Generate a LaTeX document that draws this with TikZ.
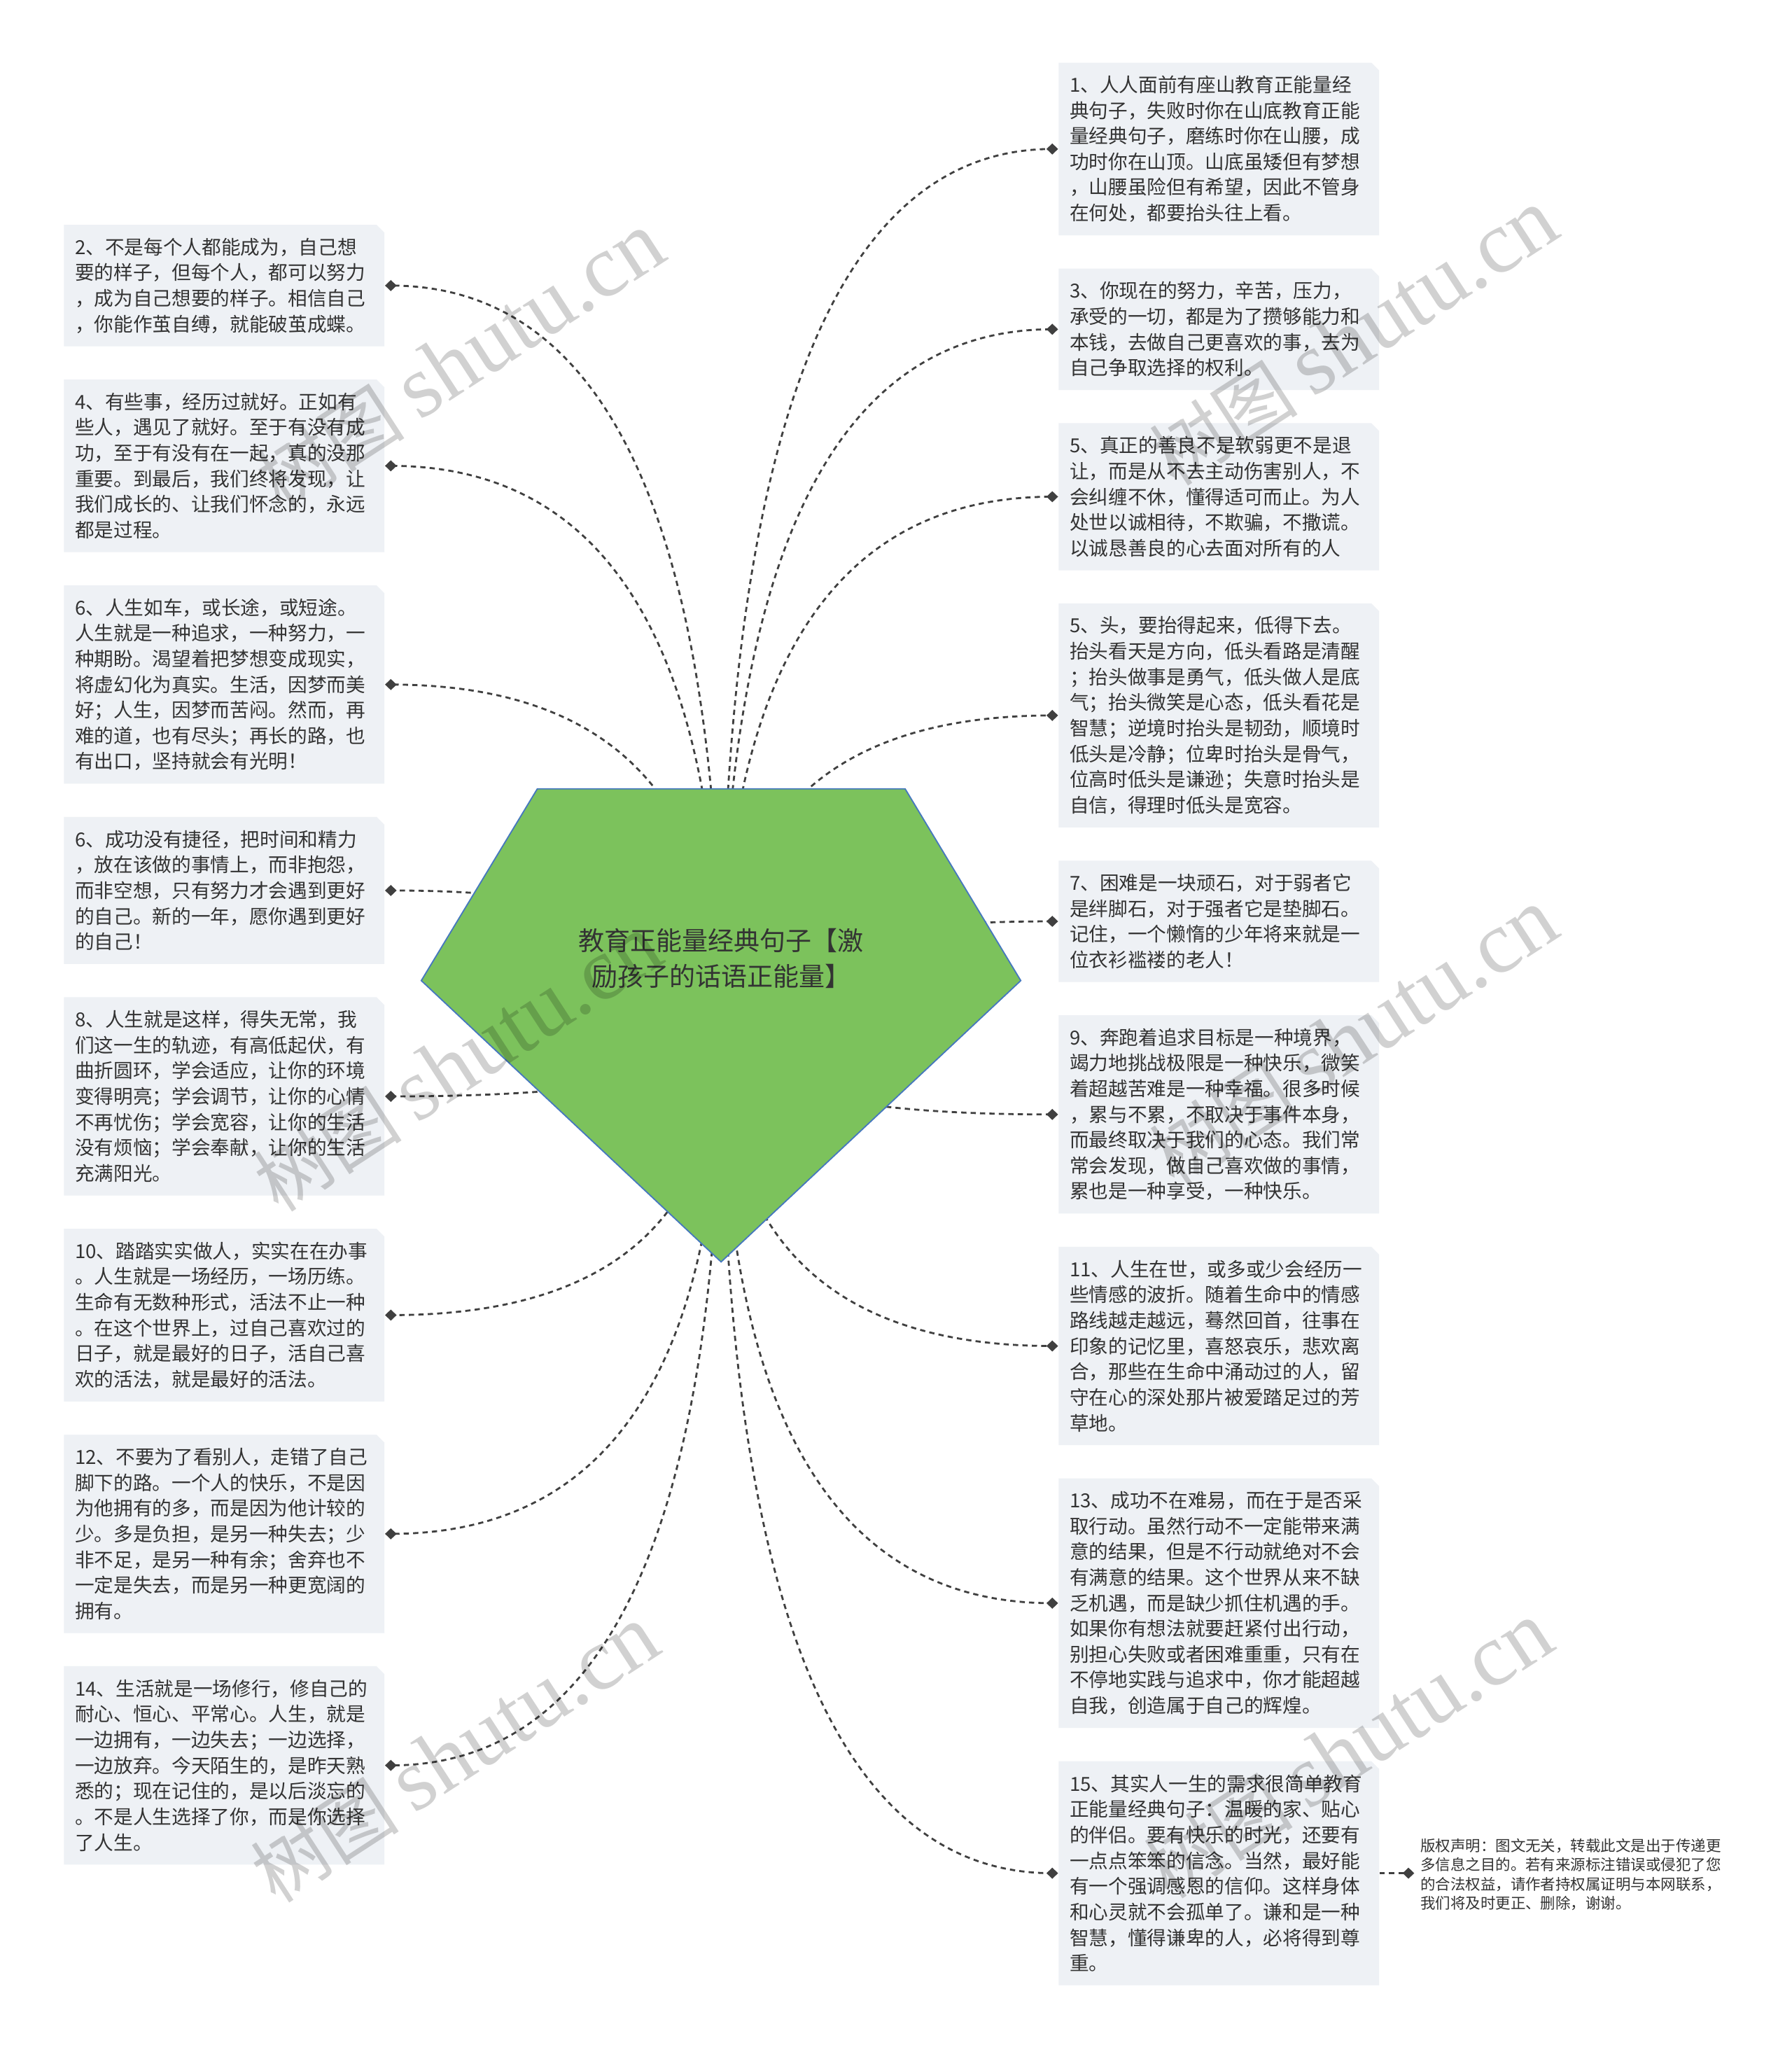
\documentclass[tikz,border=0pt]{standalone}
\usepackage{fontspec}
\setmainfont{Noto Sans CJK SC}
\newfontfamily\wmcjk{Noto Sans CJK SC}
\newfontfamily\wmlatin{Liberation Serif}
\usetikzlibrary{shapes.geometric,calc}
\definecolor{boxfill}{RGB}{238,241,245}
\definecolor{txtcol}{RGB}{51,51,51}
\definecolor{conncol}{RGB}{64,64,64}
\definecolor{rootfill}{RGB}{124,194,92}
\definecolor{rootline}{RGB}{70,120,190}
\tikzset{
  qbox/.style={anchor=north west, inner xsep=4.25pt, inner ysep=2pt, text width=114pt,
    align=left, text=txtcol, font=\fontsize{7.4pt}{9.8pt}\selectfont,
    path picture={\fill[boxfill] (path picture bounding box.south west)
      -- (path picture bounding box.north west)
      -- ([xshift=-3pt]path picture bounding box.north east)
      -- ([yshift=-3pt]path picture bounding box.north east)
      -- (path picture bounding box.south east) -- cycle;}},
  hfour/.style={minimum height=46.4pt},
  hfive/.style={minimum height=56.2pt},
  hsix/.style={minimum height=66pt},
  hseven/.style={minimum height=75.8pt},
  height/.style={minimum height=85.6pt},
  hnine/.style={minimum height=95.4pt},
  conn/.style={draw=conncol, line width=0.75pt, dash pattern=on 2pt off 1.6pt},
  dnode/.style={diamond, fill=conncol, inner sep=0pt, minimum width=4.6pt, minimum height=4.4pt},
  roottext/.style={align=center, text=txtcol, font=\fontsize{9.9pt}{13.5pt}\selectfont, inner sep=0pt},
  crtext/.style={align=left, text=txtcol, font=\fontsize{5.75pt}{7.3pt}\selectfont, inner sep=0pt, anchor=west},
  wm/.style={rotate=33, text=black, text opacity=0.18, inner sep=0pt}
}
\begin{document}
\begin{tikzpicture}[x=0.5pt,y=-0.5pt]
\fill[white] (0,0) rectangle (1370,1568.6);
\useasboundingbox (0,0) rectangle (1370,1568.6);

% ---------- left column ----------
\node[qbox,hfour] (b2) at (48.5,171.5) {2、不是每个人都能成为，自己想\\要的样子，但每个人，都可以努力\\，成为自己想要的样子。相信自己\\，你能作茧自缚，就能破茧成蝶。};
\node[qbox,hsix] (b4) at ([yshift=-12.3pt]b2.south west) {4、有些事，经历过就好。正如有\\些人，遇见了就好。至于有没有成\\功，至于有没有在一起，真的没那\\重要。到最后，我们终将发现，让\\我们成长的、让我们怀念的，永远\\都是过程。};
\node[qbox,hseven] (b6a) at ([yshift=-12.3pt]b4.south west) {6、人生如车，或长途，或短途。\\人生就是一种追求，一种努力，一\\种期盼。渴望着把梦想变成现实，\\将虚幻化为真实。生活，因梦而美\\好；人生，因梦而苦闷。然而，再\\难的道，也有尽头；再长的路，也\\有出口，坚持就会有光明！};
\node[qbox,hfive] (b6b) at ([yshift=-12.3pt]b6a.south west) {6、成功没有捷径，把时间和精力\\，放在该做的事情上，而非抱怨，\\而非空想，只有努力才会遇到更好\\的自己。新的一年，愿你遇到更好\\的自己！};
\node[qbox,hseven] (b8) at ([yshift=-12.3pt]b6b.south west) {8、人生就是这样，得失无常，我\\们这一生的轨迹，有高低起伏，有\\曲折圆环，学会适应，让你的环境\\变得明亮；学会调节，让你的心情\\不再忧伤；学会宽容，让你的生活\\没有烦恼；学会奉献，让你的生活\\充满阳光。};
\node[qbox,hsix] (b10) at ([yshift=-12.3pt]b8.south west) {10、踏踏实实做人，实实在在办事\\。人生就是一场经历，一场历练。\\生命有无数种形式，活法不止一种\\。在这个世界上，过自己喜欢过的\\日子，就是最好的日子，活自己喜\\欢的活法，就是最好的活法。};
\node[qbox,hseven] (b12) at ([yshift=-12.3pt]b10.south west) {12、不要为了看别人，走错了自己\\脚下的路。一个人的快乐，不是因\\为他拥有的多，而是因为他计较的\\少。多是负担，是另一种失去；少\\非不足，是另一种有余；舍弃也不\\一定是失去，而是另一种更宽阔的\\拥有。};
\node[qbox,hseven] (b14) at ([yshift=-12.3pt]b12.south west) {14、生活就是一场修行，修自己的\\耐心、恒心、平常心。人生，就是\\一边拥有，一边失去；一边选择，\\一边放弃。今天陌生的，是昨天熟\\悉的；现在记住的，是以后淡忘的\\。不是人生选择了你，而是你选择\\了人生。};

% ---------- right column ----------
\node[qbox,hsix] (b1) at (809,47.5) {1、人人面前有座山教育正能量经\\典句子，失败时你在山底教育正能\\量经典句子，磨练时你在山腰，成\\功时你在山顶。山底虽矮但有梦想\\，山腰虽险但有希望，因此不管身\\在何处，都要抬头往上看。};
\node[qbox,hfour] (b3) at ([yshift=-12.3pt]b1.south west) {3、你现在的努力，辛苦，压力，\\承受的一切，都是为了攒够能力和\\本钱，去做自己更喜欢的事，去为\\自己争取选择的权利。};
\node[qbox,hfive] (b5a) at ([yshift=-12.3pt]b3.south west) {5、真正的善良不是软弱更不是退\\让，而是从不去主动伤害别人，不\\会纠缠不休，懂得适可而止。为人\\处世以诚相待，不欺骗，不撒谎。\\以诚恳善良的心去面对所有的人};
\node[qbox,height] (b5b) at ([yshift=-12.3pt]b5a.south west) {5、头，要抬得起来，低得下去。\\抬头看天是方向，低头看路是清醒\\；抬头做事是勇气，低头做人是底\\气；抬头微笑是心态，低头看花是\\智慧；逆境时抬头是韧劲，顺境时\\低头是冷静；位卑时抬头是骨气，\\位高时低头是谦逊；失意时抬头是\\自信，得理时低头是宽容。};
\node[qbox,hfour] (b7) at ([yshift=-12.3pt]b5b.south west) {7、困难是一块顽石，对于弱者它\\是绊脚石，对于强者它是垫脚石。\\记住，一个懒惰的少年将来就是一\\位衣衫褴褛的老人！};
\node[qbox,hseven] (b9) at ([yshift=-12.3pt]b7.south west) {9、奔跑着追求目标是一种境界，\\竭力地挑战极限是一种快乐，微笑\\着超越苦难是一种幸福。很多时候\\，累与不累，不取决于事件本身，\\而最终取决于我们的心态。我们常\\常会发现，做自己喜欢做的事情，\\累也是一种享受，一种快乐。};
\node[qbox,hseven] (b11) at ([yshift=-12.3pt]b9.south west) {11、人生在世，或多或少会经历一\\些情感的波折。随着生命中的情感\\路线越走越远，蓦然回首，往事在\\印象的记忆里，喜怒哀乐，悲欢离\\合，那些在生命中涌动过的人，留\\守在心的深处那片被爱踏足过的芳\\草地。};
\node[qbox,hnine] (b13) at ([yshift=-12.3pt]b11.south west) {13、成功不在难易，而在于是否采\\取行动。虽然行动不一定能带来满\\意的结果，但是不行动就绝对不会\\有满意的结果。这个世界从来不缺\\乏机遇，而是缺少抓住机遇的手。\\如果你有想法就要赶紧付出行动，\\别担心失败或者困难重重，只有在\\不停地实践与追求中，你才能超越\\自我，创造属于自己的辉煌。};
\node[qbox,height] (b15) at ([yshift=-12.3pt]b13.south west) {15、其实人一生的需求很简单教育\\正能量经典句子：温暖的家、贴心\\的伴侣。要有快乐的时光，还要有\\一点点笨笨的信念。当然，最好能\\有一个强调感恩的信仰。这样身体\\和心灵就不会孤单了。谦和是一种\\智慧，懂得谦卑的人，必将得到尊\\重。};

% ---------- connector end points ----------
\foreach \n in {2,4,6a,6b,8,10,12,14}
  \coordinate (c\n) at ([xshift=2.25pt]b\n.east);
\foreach \n in {1,3,5a,5b,7,9,11,13,15}
  \coordinate (c\n) at ([xshift=-2.25pt]b\n.west);
\coordinate (rootc) at (551.3,783.8);

% ---------- connectors (behind the root shape) ----------
\foreach \n in {2,4,6a,6b,8,10,12,14,1,3,5a,5b,7,9,11,13,15}
  \draw[conn] (rootc) .. controls ($(rootc)!0.6667!(rootc|-c\n)$) and ($(c\n)!0.6667!(rootc|-c\n)$) .. (c\n);

% ---------- root ----------
\path[fill=rootfill, draw=rootline, line width=0.5pt]
  (410.8,603) -- (692,603) -- (780.4,749.6) -- (551.3,964.6) -- (322.1,749.6) -- cycle;
\node[roottext] (root) at (551.3,732.5) {教育正能量经典句子【激\\励孩子的话语正能量】};

% ---------- diamonds ----------
\foreach \n in {2,4,6a,6b,8,10,12,14,1,3,5a,5b,7,9,11,13,15}
  \node[dnode] (d\n) at (c\n) {};

% ---------- copyright note ----------
\coordinate (ccr) at ([xshift=11pt]b15.east);
\draw[conn] (b15.east) -- (ccr);
\node[dnode] (dcr) at (ccr) {};
\node[crtext] (cr) at (1085.5,1433) {版权声明：图文无关，转载此文是出于传递更\\多信息之目的。若有来源标注错误或侵犯了您\\的合法权益，请作者持权属证明与本网联系，\\我们将及时更正、删除，谢谢。};

% ---------- watermarks ----------
\foreach \p/\q [count=\i] in {352/276, 1035/258, 350/813, 1035/793, 348/1341, 1031/1338}
  \node[wm] (wm\i) at (\p,\q) {{\wmcjk\fontsize{28.5pt}{30pt}\selectfont 树图}\hspace{6pt}{\wmlatin\fontsize{34pt}{36pt}\selectfont shutu.cn}};
\end{tikzpicture}
\end{document}
